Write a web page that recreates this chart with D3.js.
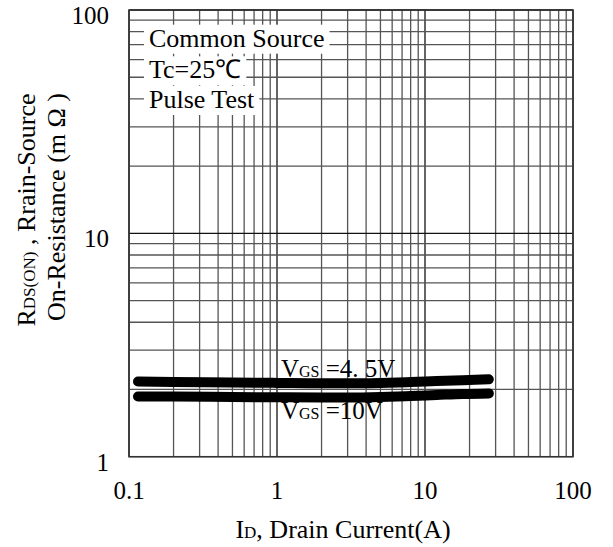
<!DOCTYPE html>
<html><head><meta charset="utf-8">
<script src="https://cdn.jsdelivr.net/npm/d3@7"></script>
<style>body{margin:0;background:#fff}svg{display:block}</style>
</head><body>
<svg id="c" width="613" height="547"></svg>
<script>
const xTickValues = [0.1, 1, 10, 100];
const xTickLabels = ["0.1", "1", "10", "100"];
const yTickValues = [1, 10, 100];
const yTickLabels = ["1", "10", "100"];
const currentA = [0.115, 0.2, 0.5, 1, 2, 3, 5, 8, 12, 18, 27];
const rdsVgs45 = [2.17, 2.16, 2.15, 2.14, 2.13, 2.13, 2.14, 2.16, 2.18, 2.20, 2.22];
const rdsVgs10 = [1.86, 1.86, 1.85, 1.845, 1.84, 1.84, 1.85, 1.87, 1.89, 1.91, 1.92];
const legendLines = ["Common Source", "Tc=25\u2103", "Pulse Test"];

const FONT = "'Liberation Serif','Times New Roman',serif";
const svg = d3.select("#c");
const x = d3.scaleLog().domain([0.1, 100]).range([129, 573]);
const y = d3.scaleLog().domain([1, 100]).range([456.7, 10]);

// grid values
const gridX = [], gridY = [];
[0.1, 1, 10].forEach(d => { for (let k = 1; k <= 9; k++) gridX.push(d * k); });
[1, 10].forEach(d => { for (let k = 1; k <= 9; k++) gridY.push(d * k); });
gridX.push(100); gridY.push(100);

const g = svg.append("g");
g.selectAll(".gx").data(gridX).join("line")
  .attr("x1", d => x(d)).attr("x2", d => x(d))
  .attr("y1", y(100)).attr("y2", y(1))
  .attr("stroke", (d, i) => (i % 9 === 0) ? "#111" : "#555").attr("stroke-width", 1.3);
g.selectAll(".gy").data(gridY).join("line")
  .attr("y1", d => y(d)).attr("y2", d => y(d))
  .attr("x1", x(0.1)).attr("x2", x(100))
  .attr("stroke", (d, i) => (i % 9 === 0) ? "#111" : "#555").attr("stroke-width", 1.3);
g.append("rect").attr("x", x(0.1)).attr("y", y(100))
  .attr("width", x(100) - x(0.1)).attr("height", y(1) - y(100))
  .attr("fill", "none").attr("stroke", "#333").attr("stroke-width", 1.5);

// legend boxes
const legendG = svg.append("g");
const baselines = [46.7, 78.3, 108];
legendLines.forEach((t, i) => {
  const txt = legendG.append("text").attr("x", 149).attr("y", baselines[i])
    .attr("font-family", FONT).attr("font-size", 26).attr("fill", "#000").text(t);
  const w = txt.node().getComputedTextLength();
  legendG.insert("rect", "text").attr("x", 144).attr("y", baselines[i] - 22)
    .attr("width", w + 10).attr("height", 29).attr("fill", "#fff");
});

// curves
const line = d3.line().x(d => x(d[0])).y(d => y(d[1])).curve(d3.curveMonotoneX);
[rdsVgs45, rdsVgs10].forEach(s => {
  svg.append("path").datum(currentA.map((c, i) => [c, s[i]]))
    .attr("d", line).attr("fill", "none").attr("stroke", "#000")
    .attr("stroke-width", 10).attr("stroke-linecap", "round");
});

// curve labels
function vgsLabel(xp, yp, val) {
  const t = svg.append("text").attr("x", xp).attr("y", yp)
    .attr("font-family", FONT).attr("font-size", 25).attr("fill", "#000");
  t.append("tspan").text("V");
  t.append("tspan").attr("font-size", 16).text("GS");
  t.append("tspan").text(" =" + val);
}
vgsLabel(281, 377, "4. 5V");
vgsLabel(281, 419, "10V");

// x tick labels
svg.selectAll(".xt").data(xTickValues).join("text")
  .attr("x", d => x(d)).attr("y", 499).attr("text-anchor", "middle")
  .attr("font-family", FONT).attr("font-size", 25).attr("fill", "#000")
  .text((d, i) => xTickLabels[i]);
// y tick labels
svg.selectAll(".yt").data(yTickValues).join("text")
  .attr("x", 109).attr("y", d => y(d) + 14).attr("text-anchor", "end")
  .attr("font-family", FONT).attr("font-size", 25).attr("fill", "#000")
  .text((d, i) => yTickLabels[i]);

// x title
const xt = svg.append("text").attr("x", 343).attr("y", 538).attr("text-anchor", "middle")
  .attr("font-family", FONT).attr("font-size", 26).attr("fill", "#000");
xt.append("tspan").text("I");
xt.append("tspan").attr("font-size", 17).text("D");
xt.append("tspan").text(", Drain Current(A)");

// y title
const yt1 = svg.append("text").attr("transform", "translate(35,210) rotate(-90)")
  .attr("text-anchor", "middle").attr("font-family", FONT).attr("font-size", 26).attr("fill", "#000");
yt1.append("tspan").text("R");
yt1.append("tspan").attr("font-size", 17).text("DS(ON)");
yt1.append("tspan").text(" , Rrain-Source");
svg.append("text").attr("transform", "translate(65,207) rotate(-90)")
  .attr("text-anchor", "middle").attr("font-family", FONT).attr("font-size", 26).attr("fill", "#000")
  .text("On-Resistance (m \u03A9 )");
</script>
</body></html>
